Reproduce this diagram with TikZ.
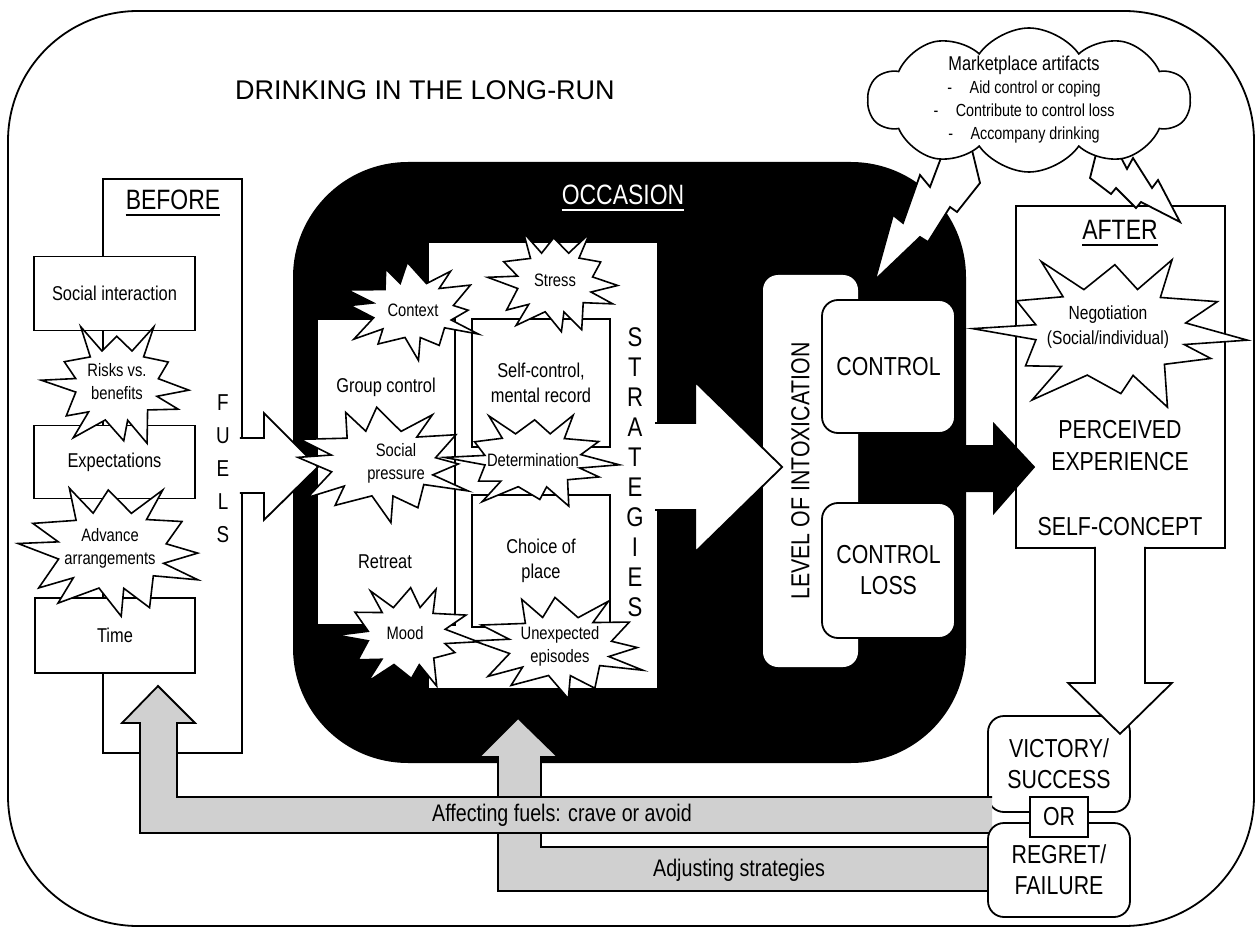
\documentclass[tikz,border=0pt]{standalone}
\usepackage{fontspec}
\setmainfont{Liberation Sans}[FakeStretch=0.82]
\newfontfamily\wideFont{Liberation Sans}
\usepackage{tikz}
\usetikzlibrary{positioning, calc, shapes.symbols}
\definecolor{bandGray}{RGB}{208,208,208}
\tikzstyle{plainBox}=[draw, fill=white, line width=1.8pt, inner sep=0pt, align=center, font=\fontsize{20}{25}\selectfont]
\tikzstyle{roundBox}=[plainBox, rounded corners=16pt, font=\fontsize{26}{31}\selectfont]
\tikzstyle{burstLine}=[draw, fill=white, line width=1.6pt, line join=miter]
\tikzstyle{burstText}=[inner sep=0pt, align=center, font=\fontsize{18}{23}\selectfont]
\tikzstyle{header}=[inner sep=0pt, font=\fontsize{28}{30}\selectfont]
\tikzstyle{capsText}=[inner sep=0pt, align=center, font=\fontsize{26}{32}\selectfont]
\tikzstyle{blockArrow}=[draw, fill=white, line width=1.8pt]
\tikzstyle{grayArrow}=[draw, fill=bandGray, line width=1.8pt]
\tikzstyle{underLine}=[line width=2.2pt]
% explosion: centre, outer x radius, outer y radius, seed
\newcommand{\drawBurst}[4]{%
  \pgfmathsetmacro\burstFr{0.74+0.28*abs(sin(#4))}%
  \pgfmathsetmacro\burstAng{6*sin(#4)}%
  \draw[burstLine] ($(#1)+(\burstAng:{#2*\burstFr} and {#3*\burstFr})$)
    \foreach \k [evaluate=\k as \fr using 0.56+(1-\k+2*floor(\k/2))*(0.18+0.28*abs(sin(\k*137+#4))),
                 evaluate=\k as \ang using \k*15+6*sin(\k*97+#4)] in {1,...,23}{
      -- ($(#1)+(\ang:{#2*\fr} and {#3*\fr})$)} -- cycle;}

\begin{document}
\begin{tikzpicture}[x=1pt, y=-1pt]
  \useasboundingbox (0,0) rectangle (1259,928);
  \draw[line width=1.8pt, rounded corners=130pt] (8,11) rectangle (1254,926);
  \node[inner sep=0pt, font=\wideFont\fontsize{27}{30}\selectfont] (title) at (425,90) {DRINKING IN THE LONG-RUN};

  % occasion
  \node[fill=black, rounded corners=115pt, minimum width=673pt, minimum height=601pt] (occasion) at (629.5,462.5) {};
  \node[header, text=white] (occasionHdr) at (623,195) {OCCASION};
  \draw[underLine, white] ($(occasionHdr.south west)+(0,5)$) -- ($(occasionHdr.south east)+(0,5)$);

  \node[fill=white, minimum width=228pt, minimum height=445pt] (strat) at (543,465.5) {};
  \node[plainBox, minimum width=138pt, minimum height=306pt] (panel) at (386,472) {};
  \node[plainBox, minimum width=138pt, minimum height=128pt] (selfCtl) at (541,383) {Self-control,\\mental record};
  \node[plainBox, minimum width=138pt, minimum height=132pt] (choice) at (541,561) {Choice of\\place};
  \node[inner sep=0pt, font=\fontsize{20}{25}\selectfont] (groupTxt) at (386,387) {Group control};
  \node[inner sep=0pt, font=\fontsize{20}{25}\selectfont] (retreatTxt) at (385,562) {Retreat};
  \node[inner sep=0pt, align=center, font=\fontsize{27}{30}\selectfont] (strategies) at (635,472) {S\\T\\R\\A\\T\\E\\G\\I\\E\\S};

  \drawBurst{413,310}{73}{50}{3}
  \node[burstText] (context) at (413,310) {Context};
  \drawBurst{555,282}{68}{55}{41}
  \node[burstText] (stress) at (555,280) {Stress};
  \drawBurst{533,460}{87}{50}{67}
  \node[burstText] (determination) at (533,460) {Determination};
  \drawBurst{560,646}{93}{54}{19}
  \node[burstText] (unexpected) at (560,646) {Unexpected\\episodes};
  \drawBurst{407,636}{70}{54}{88}
  \node[burstText] (mood) at (405,633) {Mood};

  % before
  \node[plainBox, minimum width=139pt, minimum height=574pt] (before) at (172.5,466) {};
  \node[header] (beforeHdr) at (173,200) {BEFORE};
  \draw[underLine] ($(beforeHdr.south west)+(0,5)$) -- ($(beforeHdr.south east)+(0,5)$);
  \node[plainBox, minimum width=161pt, minimum height=74pt] (social) at (114.5,293.5) {Social interaction};
  \node[plainBox, minimum width=161pt, minimum height=73pt] (expect) at (114.5,462) {Expectations};
  \node[plainBox, minimum width=160pt, minimum height=75pt] (time) at (115,635.5) {Time};
  \drawBurst{117,385}{75}{65}{52}
  \node[burstText] (risks) at (117,382) {Risks vs.\\benefits};
  \drawBurst{112,550}{98}{70}{29}
  \node[burstText] (advance) at (110,548) {Advance\\arrangements};
  \node[inner sep=0pt, align=center, font=\fontsize{23}{33}\selectfont] (fuels) at (223,469) {F\\U\\E\\L\\S};

  \draw[blockArrow] ($(before.east)+(-3,-28)$) -- ++(24,0) -- ++(0,-25)
    -- ($(before.east)+(75,1)$) -- ($(before.east)+(21,54)$) -- ++(0,-27) -- ++(-24,0);
  \drawBurst{383,463}{95}{60}{11}
  \node[burstText] (pressure) at (396,463) {Social\\pressure};

  % intoxication
  \node[fill=white, rounded corners=15pt, minimum width=95pt, minimum height=392pt] (level) at (810.5,471) {};
  \node[capsText, rotate=90] (levelTxt) at ($(level.center)+(-10,0)$) {LEVEL OF INTOXICATION};
  \node[roundBox, minimum width=133pt, minimum height=133pt] (control) at (888.5,366.5) {CONTROL};
  \node[roundBox, minimum width=133pt, minimum height=135pt] (controlLoss) at (888.5,570.5) {CONTROL\\LOSS};
  \draw[blockArrow] ($(strat.east)+(-2,-42.5)$) -- ++(40,0) -- ++(0,-41)
    -- ($(strat.east)+(125,1.5)$) -- ($(strat.east)+(38,86.5)$) -- ++(0,-42) -- ++(-40,0);

  % after
  \node[plainBox, minimum width=209pt, minimum height=342pt] (after) at (1120.5,377) {};
  \node[header] (afterHdr) at (1120,230) {AFTER};
  \draw[underLine] ($(afterHdr.south west)+(0,5)$) -- ($(afterHdr.south east)+(0,5)$);
  \node[capsText] (perceived) at (1120,446) {PERCEIVED\\EXPERIENCE};
  \node[capsText] (selfConcept) at (1120,527) {SELF-CONCEPT};
  \drawBurst{1111,332}{136}{81}{73}
  \node[burstText, font=\fontsize{19}{25}\selectfont] (negotiation) at (1108,327) {Negotiation\\(Social/individual)};
  \fill[black] ($(occasion.east)+(-10,-17.5)$) -- ++(37,0) -- ++(0,-23)
    -- ($(occasion.east)+(69,4.5)$) -- ($(occasion.east)+(27,52.5)$) -- ++(0,-23) -- ++(-37,0) -- cycle;

  % outcome
  \node[roundBox, minimum width=142pt, minimum height=96pt] (victory) at (1059,764) {VICTORY/\\SUCCESS};
  \draw[blockArrow] ($(after.south)+(-25.5,-2)$) -- ++(0,136) -- ++(-27,0) -- ++(52,51)
    -- ++(52,-51) -- ++(-27,0) -- ++(0,-136);

  % feedback
  \draw[grayArrow] (992,847) -- (541,847) -- (541,757) -- (558,757) -- (518,718)
    -- (479,757) -- (498,757) -- (498,891) -- (992,891);
  \draw[grayArrow] (992,797) -- (177,797) -- (177,723) -- (195,723) -- (158,686)
    -- (122,723) -- (140,723) -- (140,833) -- (992,833);
  \node[inner sep=0pt, font=\fontsize{24}{28}\selectfont] (fuelsTxt) at (562,815) {Affecting fuels: crave or avoid};
  \node[inner sep=0pt, font=\fontsize{24}{28}\selectfont] (strategiesTxt) at (739,870) {Adjusting strategies};
  \node[roundBox, minimum width=142pt, minimum height=94pt] (regret) at (1059,870) {REGRET/\\FAILURE};
  \node[plainBox, minimum width=58pt, minimum height=40pt, font=\fontsize{26}{31}\selectfont] (orBox) at (1059,817) {OR};

  % artifacts
  \draw[blockArrow] (944,150) -- (930,187) -- (920,175) -- (903,223) -- (893,215) -- (875,280)
    -- (920,237) -- (928,242) -- (950,207) -- (957,212) -- (980,183) -- (972,150) -- cycle;
  \draw[blockArrow] (1117,150) -- (1127,169) -- (1133,158) -- (1152,188) -- (1158,180) -- (1180,222)
    -- (1141,202) -- (1136,208) -- (1116,188) -- (1111,194) -- (1090,178) -- (1097,150) -- cycle;
  \node[cloud, cloud ignores aspect, draw, fill=white, line width=1.6pt, cloud puffs=10, cloud puff arc=110, minimum width=322pt, minimum height=144pt] (artifacts) at (1029,100) {};
  \node[inner sep=0pt, align=center, font=\fontsize{17.5}{23}\selectfont] (artifactsTxt) at (1024,100)
    {{\fontsize{20}{23}\selectfont Marketplace artifacts}\\-\quad Aid control or coping\\-\quad Contribute to control loss\\-\quad Accompany drinking};
\end{tikzpicture}
\end{document}
